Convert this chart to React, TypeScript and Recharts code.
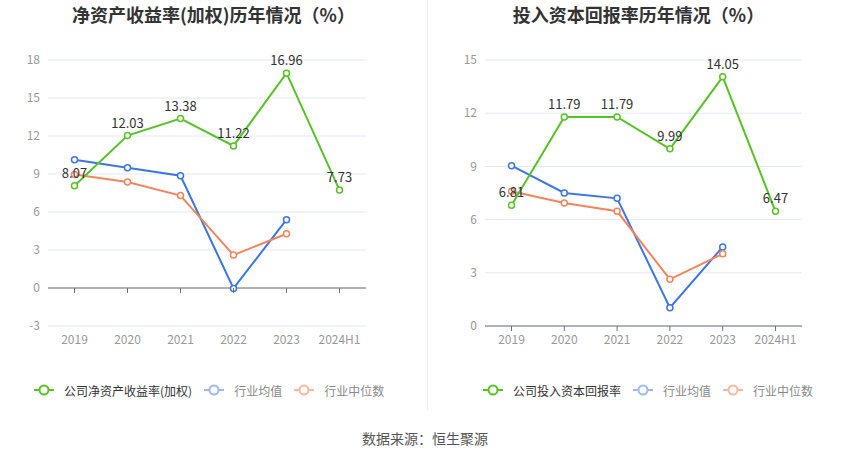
import React from 'react';
import { LineChart, Line, XAxis, YAxis, CartesianGrid, ReferenceLine, LabelList } from 'recharts';

const years = ['2019', '2020', '2021', '2022', '2023', '2024H1'];

const roeCompany = [8.07, 12.03, 13.38, 11.22, 16.96, 7.73];
const roeAvg = [10.12, 9.49, 8.86, -0.03, 5.39, null];
const roeMedian = [8.96, 8.36, 7.3, 2.6, 4.28, null];

const roicCompany = [6.81, 11.79, 11.79, 9.99, 14.05, 6.47];
const roicAvg = [9.04, 7.5, 7.2, 1.03, 4.46, null];
const roicMedian = [7.6, 6.94, 6.47, 2.63, 4.07, null];

const roeTicks = [-3, 0, 3, 6, 9, 12, 15, 18];
const roicTicks = [0, 3, 6, 9, 12, 15];

const roeLegend = ['公司净资产收益率(加权)', '行业均值', '行业中位数'];
const roicLegend = ['公司投入资本回报率', '行业均值', '行业中位数'];

const GREEN = '#56c324';
const BLUE = '#3a76e6';
const ORANGE = '#f5845a';
const LEGEND_COLORS = [GREEN, '#9db9f2', '#f9b8a0'];
const LEGEND_TEXT = ['#333', '#8a8a8a', '#8a8a8a'];

const FONT = '"Noto Sans CJK SC", "Noto Sans", sans-serif';

function buildRows(company: (number | null)[], avg: (number | null)[], med: (number | null)[]) {
  return years.map((y, i) => ({ year: y, company: company[i], avg: avg[i], med: med[i] }));
}

type PanelProps = {
  title: string;
  rows: any[];
  ticks: number[];
  legend: string[];
  left: number;
  width: number;
  yAxisWidth: number;
  marginRight: number;
  legendLeft: number;
};

const TOP = 60;
const PLOT_H = 266;
const X_AXIS_H = 34;

function Panel({ title, rows, ticks, legend, left, width, yAxisWidth, marginRight, legendLeft }: PanelProps) {
  const min = ticks[0];
  const max = ticks[ticks.length - 1];
  const zeroY = TOP + (PLOT_H * (max - 0)) / (max - min);
  const height = TOP + PLOT_H + X_AXIS_H;

  const renderTick = (props: any) => {
    const { x, y, payload } = props;
    return (
      <g>
        <line x1={x} x2={x} y1={zeroY} y2={zeroY + 5} stroke="#6e7079" strokeWidth={1} />
        <text x={x} y={y} dy="0.85em" textAnchor="middle" fill="#999" fontSize={12} fontFamily={FONT}>
          {payload.value}
        </text>
      </g>
    );
  };

  return (
    <div style={{ position: 'absolute', left, top: 0, width, height: 459 }}>
      <div
        style={{
          position: 'absolute',
          top: 2,
          left: 0,
          width: '100%',
          textAlign: 'center',
          fontFamily: FONT,
          fontWeight: 'bold',
          fontSize: 18,
          color: '#333',
          lineHeight: '24px',
        }}
      >
        {title}
      </div>
      <div style={{ position: 'absolute', top: 0, left: 0 }}>
        <LineChart
          width={width}
          height={height}
          data={rows}
          margin={{ top: TOP, right: marginRight, left: 0, bottom: 0 }}
          style={{ fontFamily: FONT }}
        >
          <CartesianGrid vertical={false} stroke="#e3e8f3" />
          <XAxis
            dataKey="year"
            height={X_AXIS_H}
            axisLine={false}
            tickLine={false}
            tick={renderTick}
            padding={{ left: 26.5, right: 26.5 }}
            interval={0}
          />
          <YAxis
            width={yAxisWidth}
            domain={[min, max]}
            ticks={ticks}
            axisLine={false}
            tickLine={false}
            tick={{ fill: '#999', fontSize: 12, fontFamily: FONT }}
            interval={0}
          />
          <ReferenceLine y={0} stroke="#6e7079" strokeWidth={1} />
          <Line
            dataKey="avg"
            stroke={BLUE}
            strokeWidth={2}
            dot={{ r: 3, fill: '#fff', stroke: BLUE, strokeWidth: 1.5 }}
            activeDot={false}
            isAnimationActive={false}
          />
          <Line
            dataKey="med"
            stroke={ORANGE}
            strokeWidth={2}
            dot={{ r: 3, fill: '#fff', stroke: ORANGE, strokeWidth: 1.5 }}
            activeDot={false}
            isAnimationActive={false}
          />
          <Line
            dataKey="company"
            stroke={GREEN}
            strokeWidth={2}
            dot={{ r: 3, fill: '#fff', stroke: GREEN, strokeWidth: 1.5 }}
            activeDot={false}
            isAnimationActive={false}
          >
            <LabelList dataKey="company" position="top" offset={8} fill="#333" fontSize={13} fontFamily={FONT} />
          </Line>
        </LineChart>
      </div>
      <div
        style={{
          position: 'absolute',
          top: 381,
          left: legendLeft,
          display: 'flex',
          alignItems: 'center',
          fontFamily: FONT,
          fontSize: 12,
          whiteSpace: 'nowrap',
        }}
      >
        {legend.map((name, i) => (
          <div key={name} style={{ display: 'flex', alignItems: 'center', marginRight: 11 }}>
            <svg width={22} height={18} style={{ display: 'block' }}>
              <line x1={1} x2={21} y1={9} y2={9} stroke={LEGEND_COLORS[i]} strokeWidth={2} />
              <circle cx={11} cy={9} r={4.5} fill="#fff" stroke={LEGEND_COLORS[i]} strokeWidth={2} />
            </svg>
            <span style={{ marginLeft: 9, color: LEGEND_TEXT[i] }}>{name}</span>
          </div>
        ))}
      </div>
    </div>
  );
}

export default function App() {
  return (
    <div style={{ position: 'absolute', left: 0, top: 0, width: 850, height: 459, background: '#fff', overflow: 'hidden' }}>
      <Panel
        title="净资产收益率(加权)历年情况（%）"
        rows={buildRows(roeCompany, roeAvg, roeMedian)}
        ticks={roeTicks}
        legend={roeLegend}
        left={0}
        width={427}
        yAxisWidth={48}
        marginRight={61}
        legendLeft={33}
      />
      <div style={{ position: 'absolute', left: 427, top: 0, width: 1, height: 410, background: '#eeeeee' }} />
      <Panel
        title="投入资本回报率历年情况（%）"
        rows={buildRows(roicCompany, roicAvg, roicMedian)}
        ticks={roicTicks}
        legend={roicLegend}
        left={427}
        width={423}
        yAxisWidth={58}
        marginRight={48}
        legendLeft={55}
      />
      <div
        style={{
          position: 'absolute',
          top: 429,
          left: 0,
          width: 850,
          textAlign: 'center',
          fontFamily: FONT,
          fontSize: 14,
          color: '#555',
          lineHeight: '18px',
        }}
      >
        数据来源：恒生聚源
      </div>
    </div>
  );
}
